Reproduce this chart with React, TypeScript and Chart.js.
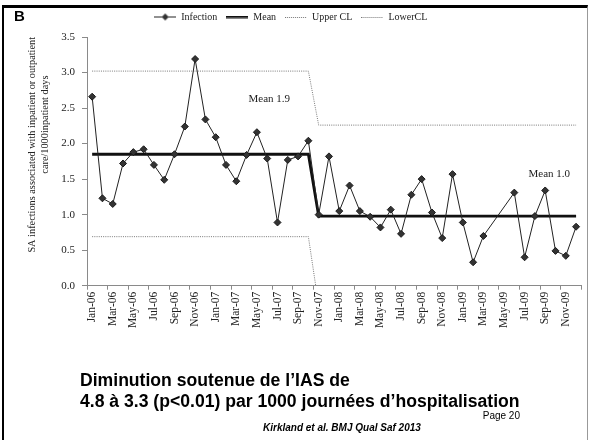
import React, { useEffect, useRef } from 'react';
import { Chart, registerables } from 'chart.js';

Chart.register(...registerables);

// ---- Data ----
const months: string[] = [
  'Jan-06', 'Feb-06', 'Mar-06', 'Apr-06', 'May-06', 'Jun-06', 'Jul-06', 'Aug-06', 'Sep-06', 'Oct-06', 'Nov-06', 'Dec-06',
  'Jan-07', 'Feb-07', 'Mar-07', 'Apr-07', 'May-07', 'Jun-07', 'Jul-07', 'Aug-07', 'Sep-07', 'Oct-07', 'Nov-07', 'Dec-07',
  'Jan-08', 'Feb-08', 'Mar-08', 'Apr-08', 'May-08', 'Jun-08', 'Jul-08', 'Aug-08', 'Sep-08', 'Oct-08', 'Nov-08', 'Dec-08',
  'Jan-09', 'Feb-09', 'Mar-09', 'Apr-09', 'May-09', 'Jun-09', 'Jul-09', 'Aug-09', 'Sep-09', 'Oct-09', 'Nov-09', 'Dec-09',
];

const infection: (number | null)[] = [
  2.66, 1.23, 1.15, 1.72, 1.88, 1.92, 1.70, 1.49, 1.85, 2.24, 3.19, 2.34,
  2.09, 1.70, 1.47, 1.84, 2.16, 1.79, 0.89, 1.77, 1.82, 2.04, 1.00, 1.82,
  1.05, 1.41, 1.05, 0.97, 0.82, 1.07, 0.73, 1.28, 1.50, 1.03, 0.67, 1.57,
  0.89, 0.33, 0.70, null, null, 1.31, 0.40, 0.98, 1.34, 0.49, 0.42, 0.83,
];

// Two phases: baseline (through Oct-07) and post-intervention (from Nov-07)
const lastBaselineMonth = 'Oct-07';
const meanLevels = [1.85, 0.98];
const upperLevels = [3.02, 2.26];
const lowerLevels = [0.69, -0.28];

const yTicks = [0, 0.5, 1.0, 1.5, 2.0, 2.5, 3.0, 3.5];

const meanNotes = [
  { text: 'Mean 1.9', at: 17.2, value: 2.62 },
  { text: 'Mean 1.0', at: 44.4, value: 1.575 },
];

const SERIF = "'Liberation Serif', 'Times New Roman', serif";
const SANS = "'Liberation Sans', Arial, sans-serif";

function byPhase(levels: number[]): number[] {
  const cut = months.indexOf(lastBaselineMonth);
  return months.map((_, i) => (i <= cut ? levels[0] : levels[1]));
}

function makeSample(kind: 'marker' | 'thick' | 'dotted'): HTMLCanvasElement {
  const c = document.createElement('canvas');
  const w = 22;
  if (kind === 'marker') {
    c.width = w; c.height = 9;
    const g = c.getContext('2d')!;
    g.fillStyle = '#222';
    g.fillRect(0, 4, w, 1);
    g.beginPath();
    g.moveTo(11, 1); g.lineTo(14.5, 4.5); g.lineTo(11, 8); g.lineTo(7.5, 4.5); g.closePath();
    g.fillStyle = '#333'; g.fill();
  } else if (kind === 'thick') {
    c.width = w; c.height = 3;
    const g = c.getContext('2d')!;
    g.fillStyle = '#111';
    g.fillRect(0, 0, w, 2.5);
  } else {
    c.width = w; c.height = 1;
    const g = c.getContext('2d')!;
    g.fillStyle = '#777';
    for (let x = 0; x < w; x += 2) g.fillRect(x, 0, 1, 1);
  }
  return c;
}

const notesPlugin = {
  id: 'meanNotes',
  afterDatasetsDraw(chart: any) {
    const { ctx, scales } = chart;
    const x = scales.x, y = scales.y;
    ctx.save();
    ctx.font = `11px ${SERIF}`;
    ctx.fillStyle = '#222';
    ctx.textAlign = 'center';
    ctx.textBaseline = 'middle';
    meanNotes.forEach((n) => ctx.fillText(n.text, x.getPixelForValue(n.at), y.getPixelForValue(n.value)));
    ctx.restore();
  },
};

export default function App() {
  const ref = useRef<HTMLCanvasElement>(null);

  useEffect(() => {
    if (!ref.current) return;
    const samples = [makeSample('marker'), makeSample('thick'), makeSample('dotted'), makeSample('dotted')];
    const axisColor = '#8a8a8a';
    const chart = new Chart(ref.current, {
      type: 'line',
      data: {
        labels: months,
        datasets: [
          {
            label: 'Infection',
            data: infection,
            borderColor: '#222',
            borderWidth: 1,
            pointStyle: 'rectRot',
            pointRadius: 3.5,
            pointBackgroundColor: '#333',
            pointBorderColor: '#1a1a1a',
            pointBorderWidth: 1,
            spanGaps: true,
            tension: 0,
            order: 0,
          },
          {
            label: 'Mean',
            data: byPhase(meanLevels),
            borderColor: '#111',
            borderWidth: 2.8,
            pointRadius: 0,
            tension: 0,
            order: 1,
          },
          {
            label: 'Upper CL',
            data: byPhase(upperLevels),
            borderColor: '#777',
            borderWidth: 1,
            borderDash: [1, 1.2],
            pointRadius: 0,
            tension: 0,
            order: 2,
          },
          {
            label: 'LowerCL',
            data: byPhase(lowerLevels),
            borderColor: '#777',
            borderWidth: 1,
            borderDash: [1, 1.2],
            pointRadius: 0,
            tension: 0,
            order: 3,
          },
        ],
      },
      options: {
        responsive: false,
        animation: false,
        layout: { padding: { top: 3, left: 0, right: 10.5, bottom: 0 } },
        plugins: {
          legend: {
            position: 'top',
            weight: 1000,
            labels: {
              usePointStyle: true,
              pointStyleWidth: 22,
              padding: 9,
              color: '#222',
              font: { family: SERIF, size: 10 },
              generateLabels: (ch: any) =>
                ch.data.datasets.map((ds: any, i: number) => ({
                  text: ds.label,
                  datasetIndex: i,
                  pointStyle: samples[i],
                  fontColor: '#222',
                  hidden: false,
                  lineWidth: 0,
                  strokeStyle: 'transparent',
                  fillStyle: 'transparent',
                })),
            },
          } as any,
          title: {
            display: true,
            text: '',
            weight: 500,
            padding: { top: 0, bottom: 4 },
            font: { size: 1, lineHeight: 1 },
          } as any,
          tooltip: { enabled: false },
        },
        scales: {
          x: {
            type: 'category',
            offset: true,
            afterFit: (s: any) => { s.height = 440 - 285.7; },
            grid: {
              offset: true,
              drawOnChartArea: false,
              drawTicks: true,
              tickLength: 4,
              color: (c: any) => (c.type !== 'tick' || c.index % 2 === 0 ? axisColor : 'rgba(0,0,0,0)'),
            },
            border: { display: true, color: axisColor, width: 1 },
            ticks: {
              autoSkip: false,
              maxRotation: 90,
              minRotation: 90,
              padding: 2,
              color: '#222',
              font: { family: SERIF, size: 11.5 },
              callback: (_v: any, i: number) => (i % 2 === 0 ? months[i] : ''),
            },
          },
          y: {
            min: 0,
            max: 3.5,
            afterFit: (s: any) => { s.width = 87; },
            afterBuildTicks: (s: any) => { s.ticks = yTicks.map((v) => ({ value: v })); },
            grid: { drawOnChartArea: false, drawTicks: true, tickLength: 5, color: axisColor },
            border: { display: true, color: axisColor, width: 1 },
            ticks: {
              padding: 7,
              color: '#222',
              font: { family: SERIF, size: 11 },
              callback: (v: any) => Number(v).toFixed(1),
            },
            title: {
              display: true,
              align: 'end',
              text: [
                'SA infections associated with inpatient or outpatient',
                'care/1000inpatient days' + '               ',
              ],
              color: '#222',
              font: { family: SERIF, size: 10.3, lineHeight: 1.25 },
              padding: { top: 25.5, bottom: 0 },
            },
          },
        },
      },
      plugins: [notesPlugin],
    } as any);
    return () => chart.destroy();
  }, []);

  return (
    <div style={{ position: 'absolute', left: 0, top: 0, width: 592, height: 440, background: '#fff', overflow: 'hidden' }}>
      <canvas ref={ref} width={592} height={440} style={{ position: 'absolute', left: 0, top: 0 }} />
      <div style={{ position: 'absolute', left: 2, top: 5, width: 586, height: 440, borderTop: '3px solid #000', borderLeft: '2px solid #000', borderRight: '1px solid #999', boxSizing: 'border-box', pointerEvents: 'none' }} />
      <div style={{ position: 'absolute', left: 14, top: 8, font: `bold 15px ${SANS}`, lineHeight: '15px', color: '#000' }}>B</div>
      <div style={{ position: 'absolute', left: 80, top: 370, font: `bold 17.6px ${SANS}`, lineHeight: '21px', color: '#000', whiteSpace: 'nowrap' }}>
        <div>Diminution soutenue de l’IAS de</div>
        <div>4.8 à 3.3 (p&lt;0.01) par 1000 journées d’hospitalisation</div>
      </div>
      <div style={{ position: 'absolute', left: 460, width: 60, top: 410, textAlign: 'right', font: `10px ${SANS}`, lineHeight: '12px', color: '#000' }}>Page 20</div>
      <div style={{ position: 'absolute', left: 263, top: 422, font: `italic bold 10px ${SANS}`, lineHeight: '12px', color: '#000', whiteSpace: 'nowrap' }}>Kirkland et al. BMJ Qual Saf 2013</div>
    </div>
  );
}
